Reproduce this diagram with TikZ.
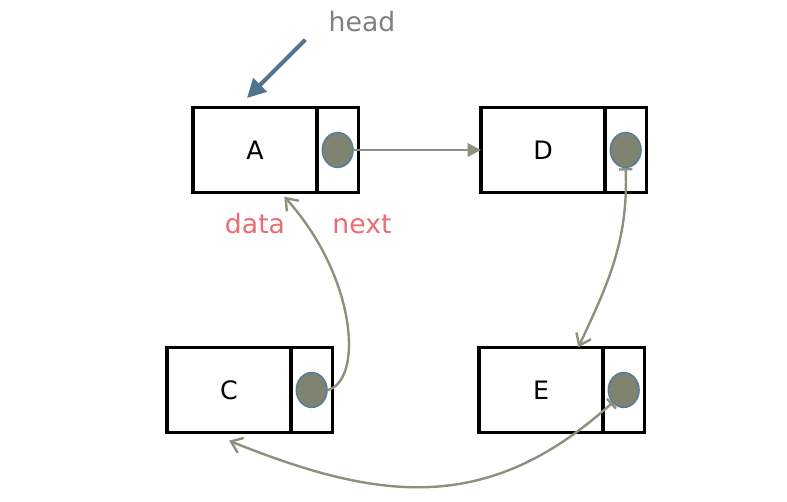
\documentclass[tikz,border=0pt]{standalone}
\usepackage{fontspec}
\setmainfont{DejaVu Sans}
\usetikzlibrary{positioning,shapes.geometric,arrows.meta}

\definecolor{linkgray}{HTML}{8C917E}
\definecolor{dotfill}{HTML}{7F8470}
\definecolor{dotedge}{HTML}{5B7B9B}
\definecolor{headblue}{HTML}{4F7390}
\definecolor{labelred}{HTML}{EA6B73}

\tikzset{
  datacell/.style={draw, line width=2.4pt, minimum width=93pt, minimum height=64pt,
    outer sep=0pt, inner sep=0pt, font=\fontsize{19}{19}\selectfont},
  nextcell/.style={draw, line width=2.4pt, minimum width=31pt, minimum height=64pt,
    outer sep=0pt, inner sep=0pt},
  dot/.style={ellipse, draw=dotedge, fill=dotfill, line width=1.2pt,
    minimum width=23pt, minimum height=26pt, inner sep=0pt},
  link/.style={draw=linkgray, line width=1.8pt},
  barb/.style={-{Straight Barb[length=8pt, width=12pt]}},
  tailbarb/.style={{Bar[width=10pt]}-{Straight Barb[length=8pt, width=12pt]}},
  tag/.style={text=labelred, font=\fontsize{20}{20}\selectfont}
}

\begin{document}
\begin{tikzpicture}[x=0.75pt, y=-0.75pt]
    % Fijar el marco
    \useasboundingbox (0,0) rectangle (787,502);

    % Nodos de la lista
    \node[datacell] (A) at (255,150) {A};
    \node[nextcell, right=0pt of A] (Anext) {};
    \node[dot] (Adot) at (Anext) {};

    \node[datacell] (D) at (543,150) {D};
    \node[nextcell, right=0pt of D] (Dnext) {};
    \node[dot] (Ddot) at (Dnext) {};

    \node[datacell] (C) at (229,390) {C};
    \node[nextcell, right=0pt of C] (Cnext) {};
    \node[dot] (Cdot) at (Cnext) {};

    \node[datacell] (E) at (541,390) {E};
    \node[nextcell, right=0pt of E] (Enext) {};
    \node[dot] (Edot) at (Enext) {};

    % Etiquetas
    \node[text=gray, font=\fontsize{20}{20}\selectfont] (head) at (362,22) {head};
    \node[tag] (data) at (255,224) {data};
    \node[tag] (next) at (362,224) {next};

    % Puntero de cabeza
    \coordinate (headtip) at ([xshift=-6pt, yshift=7pt]A.north);
    \draw[draw=headblue, line width=3pt, -{Triangle[length=14pt, width=14pt]}]
        ([xshift=-14pt, yshift=-2pt]head.south west) -- (headtip);

    % Enlaces
    \draw[link, -{Triangle[length=10pt, width=10pt]}] (Adot.east) -- (D.west);
    \draw[link, tailbarb]
        (Ddot.south) to[out=-88, in=65] ([xshift=28pt]E.north);
    \draw[link, barb]
        (Cdot.east) .. controls +(36,-10) and +(72,80) .. ([xshift=22pt, yshift=-3pt]A.south);
    \draw[link, tailbarb]
        (Edot.south west) to[out=222, in=-22, looseness=1.1] ([yshift=-6pt]C.south);
\end{tikzpicture}
\end{document}
